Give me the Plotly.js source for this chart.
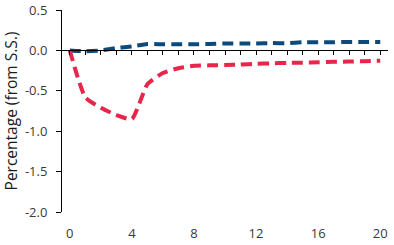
<!DOCTYPE html>
<html><head><meta charset="utf-8">
<script src="https://cdn.plot.ly/plotly-3.0.1.min.js"></script>
<style>body{margin:0;padding:0;background:#fff}#c{width:394px;height:245px}</style>
</head><body><div id="c"></div>
<script>
const periods = [0,1,2,3,4,5,6,7,8,9,10,11,12,13,14,15,16,17,18,19,20];
const blueSeries = [0, -0.01, 0, 0.03, 0.05, 0.08, 0.075, 0.075, 0.075, 0.08, 0.085, 0.085, 0.085, 0.09, 0.09, 0.1, 0.1, 0.1, 0.105, 0.105, 0.105];
const redSeries = [0, -0.58, -0.71, -0.80, -0.85, -0.42, -0.28, -0.22, -0.19, -0.185, -0.18, -0.175, -0.165, -0.16, -0.155, -0.152, -0.148, -0.142, -0.138, -0.133, -0.128];
const xTicks = [0,4,8,12,16,20];
const yTicks = [0.5,0,-0.5,-1,-1.5,-2];
const yTickText = ["0.5","0.0","-0.5","-1.0","-1.5","-2.0"];

const font = {family: "Open Sans, sans-serif", size: 13, color: "#3a3a3a"};
const traces = [
  {x: periods, y: blueSeries, mode: "lines", line: {color: "#0d4a7c", width: 4, dash: "11px,6px", shape: "spline", smoothing: 0.5}, hoverinfo: "skip"},
  {x: periods, y: redSeries, mode: "lines", line: {color: "#e8254a", width: 4, dash: "11px,6px", shape: "spline", smoothing: 0.5}, hoverinfo: "skip"},
  {x: periods, y: periods.map(()=>null), xaxis: "x2", yaxis: "y", hoverinfo: "skip", showlegend: false}
];
const layout = {
  width: 394, height: 245,
  margin: {l: 62, r: 6, t: 10, b: 33},
  showlegend: false,
  paper_bgcolor: "#fff", plot_bgcolor: "#fff",
  font: font,
  xaxis: {range: [-0.5, 20.5], tickvals: xTicks, ticks: "", showline: false, showgrid: false, zeroline: false, tickfont: font, ticklabelstandoff: 12},
  xaxis2: {range: [-0.5, 20.5], overlaying: "x", anchor: "free", position: 0.8, side: "bottom", dtick: 1, tick0: 0, ticks: "outside", ticklen: 4, tickcolor: "#000", showticklabels: false, showline: true, linecolor: "#000", linewidth: 1, showgrid: false, zeroline: false},
  yaxis: {range: [-2, 0.5], tickvals: yTicks, ticktext: yTickText, ticks: "outside", ticklen: 5, tickcolor: "#000", showline: true, linecolor: "#000", linewidth: 1, showgrid: false, zeroline: false, tickfont: font, ticklabelstandoff: 6,
    title: {text: "Percentage (from S.S.)", font: {family: "Open Sans, sans-serif", size: 15.5, color: "#1a1a1a"}, standoff: 4}}
};
Plotly.newPlot("c", traces, layout, {staticPlot: true, displayModeBar: false});
</script></body></html>
